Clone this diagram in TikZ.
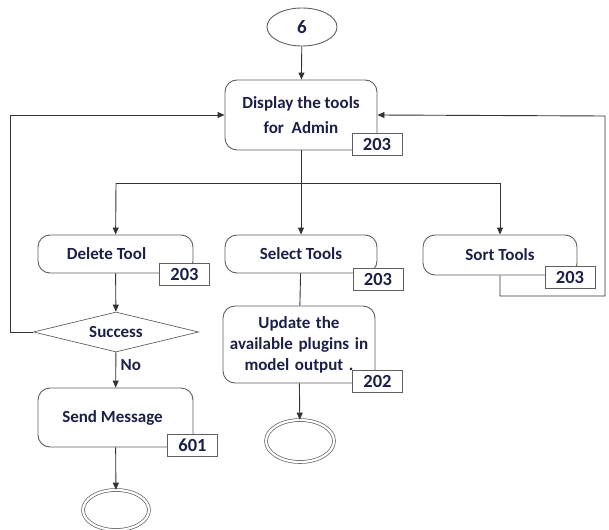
\documentclass[tikz,border=0pt]{standalone}
\usepackage{fontspec}
\setmainfont{Carlito}
\usetikzlibrary{shapes.geometric, arrows.meta, positioning}
\definecolor{ink}{RGB}{28,32,72}
\definecolor{edge}{RGB}{95,95,95}

\begin{document}
\begin{tikzpicture}[x=1pt, y=-1pt, font=\fontsize{17}{24}\selectfont\bfseries, text=ink,
      act/.style={rectangle, rounded corners=12pt, draw=edge, line width=0.9pt,
                fill=white, align=center, inner sep=1pt},
      tag/.style={rectangle, draw=edge, line width=0.9pt, fill=white,
                font=\fontsize{18.5}{20}\selectfont\bfseries,
                minimum width=50pt, minimum height=22pt, inner sep=0pt},
      ov/.style={ellipse, draw=edge, line width=0.9pt, minimum width=70pt, minimum height=38pt,
                font=\fontsize{19}{20}\selectfont\bfseries},
      fin/.style={ellipse, draw=edge, line width=0.7pt, double, double distance=2.2pt},
      dec/.style={diamond, draw=edge, line width=0.7pt, aspect=4.1, inner sep=0pt,
                minimum width=165pt, minimum height=40pt},
      ln/.style={draw=black!80, line width=0.9pt},
      arr/.style={ln, -{Triangle[length=7pt, width=6pt]}}
    ]
      \useasboundingbox (0,0) rectangle (609,529);
      % top part
      \node[ov] (start) at (302,27) {6};
      \node[act, minimum width=152pt, minimum height=70pt] (disp) at (301,115) {Display the tools\\[1pt]for\ \ Admin};
      \coordinate (br) at (301,183);
      \coordinate (bl) at (116,183);
      \coordinate (bs) at (500,183);
      % three branches
      \node[act, minimum width=155pt, minimum height=38pt] (del) at (115.5,254) {Delete Tool\hspace*{18pt}};
      \node[act, minimum width=152pt, minimum height=38pt] (sel) at (301,254) {Select Tools};
      \node[act, minimum width=154pt, minimum height=40pt] (sort) at (500,255) {Sort Tools};
      \node[dec] (succ) at (116,332) {Success};
      \node[act, minimum width=155pt, minimum height=59pt] (send) at (115.5,417.5) {Send Message\hspace*{6pt}};
      \node[act, minimum width=152pt, minimum height=77pt, text width=150pt,
            font=\fontsize{17}{21}\selectfont\bfseries] (upd) at (299,344.5)
           {Update the\\available plugins in\\model output .};
      \node[fin, minimum width=66pt, minimum height=40pt] (end1) at (116,510) {};
      \node[fin, minimum width=68pt, minimum height=42pt] (end2) at (300,441) {};
      \coordinate (lc) at (10,332);
      \coordinate (rc1) at (605,296);
      \coordinate (rc2) at (605,116);
      % connectors
      \draw[arr] (start) -- (disp);
      \draw[ln] (disp) -- (br);
      \draw[ln] (bl) -- (bs);
      \draw[arr] (bl) -- (del);
      \draw[arr] (br) -- (sel);
      \draw[arr] (bs) -- (sort);
      \draw[arr] (del) -- (succ);
      \draw[arr] (succ) -- node[right, xshift=1pt, pos=0.35]{No} (send);
      \draw[arr] (send) -- (end1);
      \draw[ln] (sel) -- (upd);
      \draw[arr] (upd) -- (end2);
      \draw[arr] (succ.west) -- (lc) |- (disp.west);
      \draw[arr] (sort.south) |- (rc1) -- (rc2) -- (disp.east);
      % reference tags
      \node[tag] (tdisp) at (377,144) {203};
      \node[tag] (tdel) at (184.5,274) {203};
      \node[tag] (tsel) at (378,279.5) {203};
      \node[tag] (tsort) at (570,277.5) {203};
      \node[tag] (tupd) at (377.5,381) {202};
      \node[tag] (tsend) at (192.5,445) {601};
    \end{tikzpicture}
\end{document}
